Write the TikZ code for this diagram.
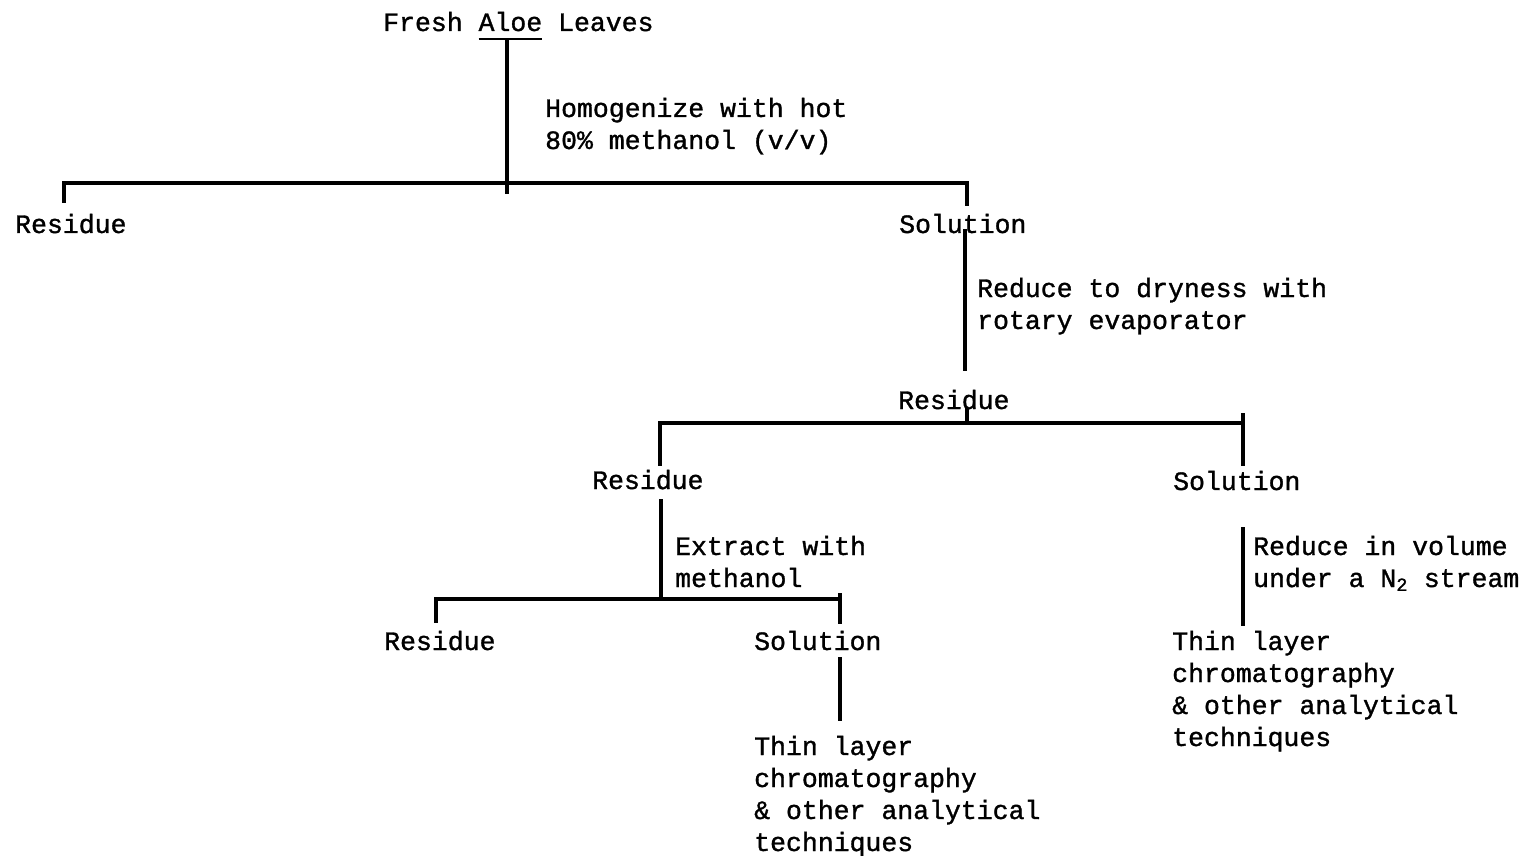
\documentclass[tikz,border=0pt]{standalone}
\usepackage{fontspec}
\setmonofont{Liberation Mono}[FakeBold=1.2]
\usetikzlibrary{calc}
\newcommand\ulword[1]{\setbox0\hbox{#1}\rlap{\rule[-9.5pt]{\wd0}{2.4pt}}\box0\relax}
\tikzset{
  txt/.style={font=\ttfamily\fontsize{26.5}{32}\selectfont, inner sep=0pt, anchor=base west, align=left},
  tree/.style={line width=3.1pt, line cap=rect}
}

\begin{document}
\begin{tikzpicture}[x=1pt,y=-1pt]
\useasboundingbox (0,0) rectangle (1532,856);
% Start and step notes (placed at the baseline of the last line)
\node[txt] (fresh) at (383,31) {Fresh \ulword{Aloe} Leaves};
\node[txt] (homog) at (545,149) {Homogenize with hot\\80\% methanol (v/v)};
\node[txt] (dry) at (977,329) {Reduce to dryness with\\rotary evaporator};
\node[txt] (extr) at (675,587) {Extract with\\methanol};
\node[txt] (volred) at (1253,587) {Reduce in volume\\under a N\textsubscript{2} stream};
% Fractions
\foreach \n/\x/\y/\t in {res1/15/233/Residue, sol1/899/233/Solution, res2/898/409/Residue,
  res3/592/489/Residue, sol3/1173/490/Solution, res4/384/650/Residue, sol4/754/650/Solution} {
  \node[txt] (\n) at (\x,\y) {\t};
}
% End points
\node[txt] (tlc4) at (754,851) {Thin layer\\chromatography\\\& other analytical\\techniques};
\node[txt] (tlc3) at (1172,746) {Thin layer\\chromatography\\\& other analytical\\techniques};
% Junctions
\coordinate (j1) at (507,183);
\coordinate (b1l) at (64,183);
\coordinate (b1r) at (967,183);
\coordinate (v1) at (965,0);
\coordinate (b2m) at (967,423);
\coordinate (b2l) at (660,423);
\coordinate (b2r) at (1243,423);
\coordinate (b3m) at (661,599);
\coordinate (b3l) at (436,599);
\coordinate (b3r) at (840,599);
% Tree lines
\draw[tree] (fresh.south -| j1) -- ([yshift=-9pt]j1);
\draw[tree, shorten <=12pt, shorten >=9pt] (res1.north -| b1l) |- (b1r) -- (sol1.north -| b1r);
\draw[tree, shorten <=-3pt, shorten >=20pt] (sol1.south -| v1) -- (res2.north -| v1);
\draw[tree] (res2.south -| b2m) -- (b2m);
\draw[tree, shorten <=5pt] (res3.north -| b2l) |- (b2r);
\draw[tree, shorten >=6pt] ([yshift=8pt]b2r) -- (sol3.north -| b2r);
\draw[tree, shorten <=11pt] (res3.south -| b3m) -- (b3m);
\draw[tree, shorten <=9pt] (res4.north -| b3l) |- (b3r);
\draw[tree, shorten >=8pt] ([yshift=4pt]b3r) -- (sol4.north -| b3r);
\draw[tree, shorten <=8pt, shorten >=16pt] (sol4.south -| b3r) -- (tlc4.north -| b3r);
\draw[tree, shorten <=38pt, shorten >=6pt] (sol3.south -| b2r) -- (tlc3.north -| b2r);
\end{tikzpicture}
\end{document}
